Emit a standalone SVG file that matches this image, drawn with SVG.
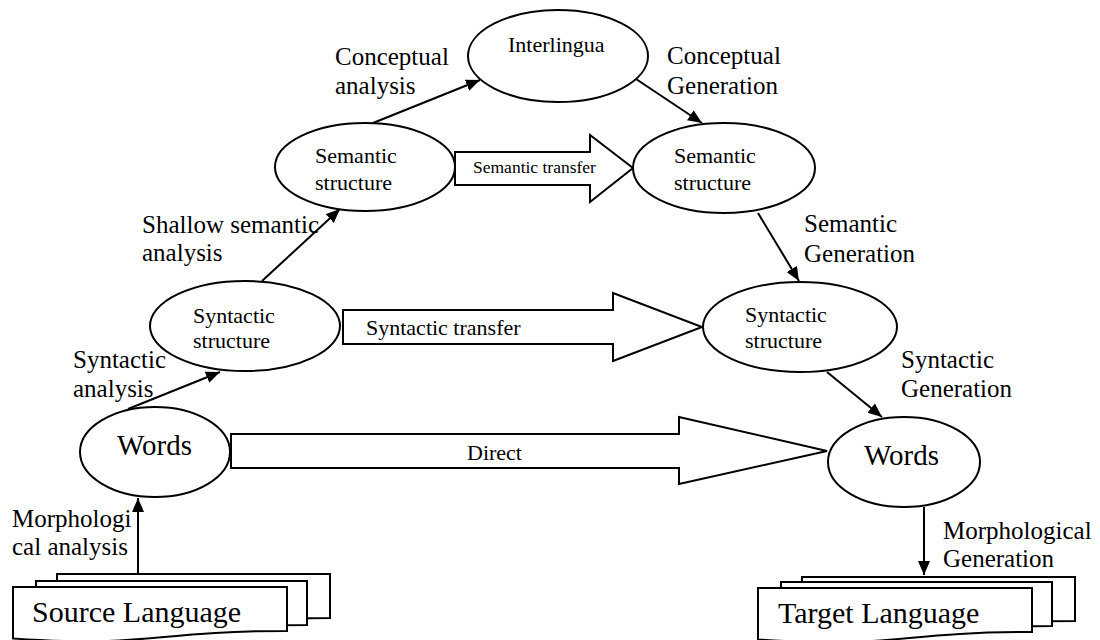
<svg xmlns="http://www.w3.org/2000/svg" width="1100" height="640" viewBox="0 0 1100 640">
  <style>
    .node { fill: #ffffff; stroke: #000000; stroke-width: 2; }
    .page { fill: #ffffff; stroke: #000000; stroke-width: 2; stroke-linejoin: miter; }
    .block { fill: #ffffff; stroke: #000000; stroke-width: 2; stroke-linejoin: miter; }
    .edge { fill: none; stroke: #000000; stroke-width: 2; marker-end: url(#head); }
    text { font-family: "Liberation Serif", "Times New Roman", serif; fill: #000000; }
    .nt { font-size: 22px; }
    .big { font-size: 29px; }
    .lang { font-size: 30px; }
    .lbl { font-size: 25px; }
    .small { font-size: 17.5px; }
  </style>
  <defs>
    <marker id="head" markerUnits="userSpaceOnUse" markerWidth="16" markerHeight="14" refX="14" refY="6" orient="auto">
      <path d="M0,0 L14,6 L0,12 Z" fill="#000000"/>
    </marker>
  </defs>
  <rect width="1100" height="640" fill="#ffffff"/>

  <!-- block arrows between levels -->
  <g id="semantic-transfer">
    <path class="block" d="M455,152 H590 V135 L633,168 L590,202 V185 H455 Z"/>
    <text class="small" x="473" y="173">Semantic transfer</text>
  </g>
  <g id="syntactic-transfer">
    <path class="block" d="M343,310 H613 V293 L702,327 L613,361 V344 H343 Z"/>
    <text class="nt" x="366" y="335">Syntactic transfer</text>
  </g>
  <g id="direct">
    <path class="block" d="M231,434 H679 V417 L827,451 L679,484 V468 H231 Z"/>
    <text class="nt" x="467" y="460">Direct</text>
  </g>

  <!-- analysis side -->
  <g id="source-language">
    <path class="page" d="M57,574 H330 V618 C193.5,618 193.5,635 57,625.4 Z"/>
    <path class="page" d="M36,581 H307 V625 C171.5,625 171.5,642 36,632.4 Z"/>
    <path class="page" d="M13,587 H287 V631 C150,631 150,648 13,638.4 Z"/>
    <text class="lang" x="32" y="622">Source Language</text>
  </g>
  <g id="words-source">
    <ellipse class="node" cx="155" cy="452" rx="75" ry="45"/>
    <text class="big" x="117" y="455">Words</text>
  </g>
  <g id="syntactic-source">
    <ellipse class="node" cx="245" cy="326" rx="95" ry="45"/>
    <text class="nt" x="193" y="323">Syntactic</text>
    <text class="nt" x="193" y="348">structure</text>
  </g>
  <g id="semantic-source">
    <ellipse class="node" cx="365" cy="167" rx="90" ry="44"/>
    <text class="nt" x="315" y="163">Semantic</text>
    <text class="nt" x="315" y="190">structure</text>
  </g>
  <g id="interlingua">
    <ellipse class="node" cx="558" cy="56" rx="90" ry="46"/>
    <text class="nt" x="508" y="52">Interlingua</text>
  </g>

  <!-- generation side -->
  <g id="semantic-target">
    <ellipse class="node" cx="724" cy="168" rx="91" ry="45"/>
    <text class="nt" x="674" y="163">Semantic</text>
    <text class="nt" x="674" y="190">structure</text>
  </g>
  <g id="syntactic-target">
    <ellipse class="node" cx="800" cy="327" rx="97" ry="45"/>
    <text class="nt" x="745" y="322">Syntactic</text>
    <text class="nt" x="745" y="348">structure</text>
  </g>
  <g id="words-target">
    <ellipse class="node" cx="904" cy="462" rx="76" ry="45"/>
    <text class="big" x="864" y="465">Words</text>
  </g>
  <g id="target-language">
    <path class="page" d="M802,577 H1075 V621 C938.5,621 938.5,638 802,628.4 Z"/>
    <path class="page" d="M781,582 H1052 V626 C916.5,626 916.5,643 781,633.4 Z"/>
    <path class="page" d="M758,588 H1032 V632 C895,632 895,649 758,639.4 Z"/>
    <text class="lang" x="778" y="623">Target Language</text>
  </g>

  <!-- processing steps -->
  <g id="connectors">
    <line class="edge" x1="138" y1="574" x2="138" y2="498"/>
    <line class="edge" x1="128" y1="409" x2="220" y2="372"/>
    <line class="edge" x1="262" y1="281" x2="340" y2="209"/>
    <line class="edge" x1="373" y1="123" x2="480" y2="80"/>
    <line class="edge" x1="636" y1="79" x2="702" y2="123"/>
    <line class="edge" x1="758" y1="213" x2="799" y2="281"/>
    <line class="edge" x1="827" y1="372" x2="882" y2="417"/>
    <line class="edge" x1="924" y1="507" x2="924" y2="575"/>
  </g>

  <g id="step-labels" class="lbl">
    <text class="lbl" x="12" y="527">Morphologi</text>
    <text class="lbl" x="12" y="555">cal analysis</text>
    <text class="lbl" x="73" y="368">Syntactic</text>
    <text class="lbl" x="73" y="397">analysis</text>
    <text class="lbl" x="142" y="233">Shallow semantic</text>
    <text class="lbl" x="142" y="261">analysis</text>
    <text class="lbl" x="335" y="65">Conceptual</text>
    <text class="lbl" x="335" y="94">analysis</text>
    <text class="lbl" x="667" y="64">Conceptual</text>
    <text class="lbl" x="667" y="94">Generation</text>
    <text class="lbl" x="804" y="232">Semantic</text>
    <text class="lbl" x="804" y="262">Generation</text>
    <text class="lbl" x="901" y="368">Syntactic</text>
    <text class="lbl" x="901" y="397">Generation</text>
    <text class="lbl" x="943" y="539">Morphological</text>
    <text class="lbl" x="943" y="567">Generation</text>
  </g>
</svg>
